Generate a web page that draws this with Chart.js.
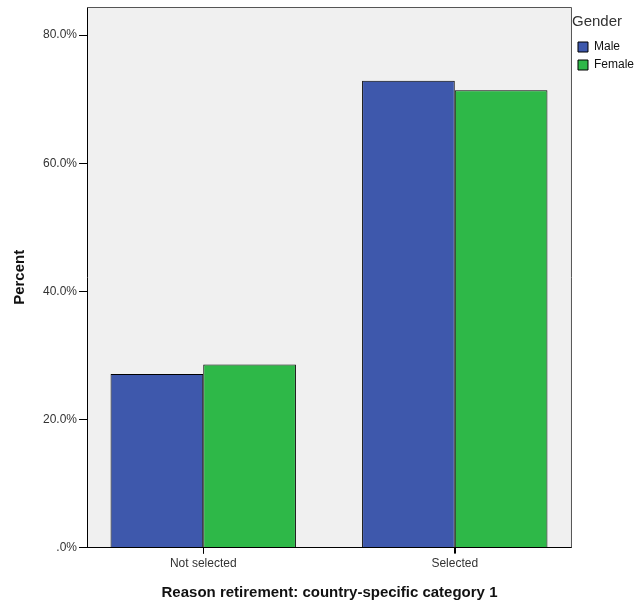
<!DOCTYPE html>
<html>
<head>
<meta charset="utf-8">
<script src="https://cdn.jsdelivr.net/npm/chart.js@4/dist/chart.umd.min.js"></script>
<style>
  body { margin: 0; background: #fff; }
  #wrap { width: 634px; height: 605px; }
</style>
</head>
<body>
<div id="wrap"><canvas id="myChart" width="634" height="605"></canvas></div>
<script>
// data
var categories = ['Not selected', 'Selected'];
var maleValues = [27.1, 72.9];
var femaleValues = [28.6, 71.4];
var yTicks = [0, 20, 40, 60, 80];

function pct(v) {
    var s = v.toFixed(1) + '%';
    return s.charAt(0) === '0' ? s.substring(1) : s;
}

// plot background + frame like SPSS
var plotBox = {
    id: 'plotBox',
    beforeDraw: function (chart) {
        var a = chart.chartArea, c = chart.ctx;
        c.save();
        c.fillStyle = '#f0f0f0';
        c.fillRect(a.left, a.top, a.right - a.left, a.bottom - a.top);
        c.restore();
    },
    afterDraw: function (chart) {
        var a = chart.chartArea, c = chart.ctx;
        c.save();
        c.strokeStyle = '#555';
        c.lineWidth = 1;
        c.beginPath();
        c.moveTo(a.left, a.top + 0.5);
        c.lineTo(a.right - 0.5, a.top + 0.5);
        c.lineTo(a.right - 0.5, a.bottom);
        c.stroke();
        // category tick marks under the x axis
        var xs = chart.scales.x;
        c.strokeStyle = '#000';
        c.beginPath();
        categories.forEach(function (cat, i) {
            var px = Math.round(xs.getPixelForValue(i)) + 0.5;
            c.moveTo(px, a.bottom);
            c.lineTo(px, a.bottom + 6);
        });
        c.stroke();
        c.restore();
    }
};

var ctx = document.getElementById('myChart').getContext('2d');
var myChart = new Chart(ctx, {
    type: 'bar',
    data: {
        datasets: [{
            label: 'Male',
            data: maleValues.map(function (v, i) { return { x: i, y: v }; }),
            backgroundColor: '#3e58ac',
            borderColor: '#000',
            borderWidth: 1
        }, {
            label: 'Female',
            data: femaleValues.map(function (v, i) { return { x: i, y: v }; }),
            backgroundColor: '#2eb848',
            borderColor: '#000',
            borderWidth: 1
        }]
    },
    options: {
        responsive: false,
        animation: false,
        layout: { padding: { left: 11, top: 7, right: -10, bottom: 3 } },
        datasets: { bar: { categoryPercentage: 0.737, barPercentage: 1.0 } },
        scales: {
            x: {
                type: 'linear',
                offset: false,
                min: -0.462,
                max: 1.466,
                afterBuildTicks: function (s) {
                    s.ticks = categories.map(function (c, i) { return { value: i }; });
                },
                grid: { offset: false, drawOnChartArea: false, tickLength: 6, color: '#000' },
                border: { color: '#000', width: 1 },
                ticks: {
                    color: '#333',
                    font: { family: 'Liberation Sans, Arial', size: 12 },
                    padding: 3,
                    callback: function (v) { return categories[v]; }
                },
                title: {
                    display: true,
                    text: 'Reason retirement: country-specific category 1',
                    color: '#111',
                    font: { family: 'Liberation Sans, Arial', size: 15, weight: 'bold' },
                    padding: { top: 10, bottom: 0 }
                }
            },
            y: {
                min: 0,
                max: 84.4,
                afterBuildTicks: function (s) {
                    s.ticks = yTicks.map(function (v) { return { value: v }; });
                },
                afterFit: function (s) { s.paddingTop = 0; },
                grid: { drawOnChartArea: false, tickLength: 8, color: '#000' },
                border: { color: '#000', width: 1 },
                ticks: {
                    color: '#333',
                    font: { family: 'Liberation Sans, Arial', size: 12 },
                    padding: 2,
                    callback: function (v) { return pct(v); }
                },
                title: {
                    display: true,
                    text: 'Percent',
                    color: '#111',
                    font: { family: 'Liberation Sans, Arial', size: 15, weight: 'bold' },
                    padding: { top: 0, bottom: 12 }
                }
            }
        },
        plugins: {
            tooltip: { enabled: false },
            legend: {
                position: 'right',
                align: 'start',
                title: {
                    display: true,
                    position: 'start',
                    text: 'Gender',
                    color: '#333',
                    font: { family: 'Liberation Sans, Arial', size: 15 },
                    padding: { top: 7, bottom: 3 }
                },
                labels: {
                    boxWidth: 10,
                    boxHeight: 10,
                    padding: 6,
                    color: '#111',
                    font: { family: 'Liberation Sans, Arial', size: 12 }
                }
            }
        }
    },
    plugins: [plotBox]
});
</script>
</body>
</html>
